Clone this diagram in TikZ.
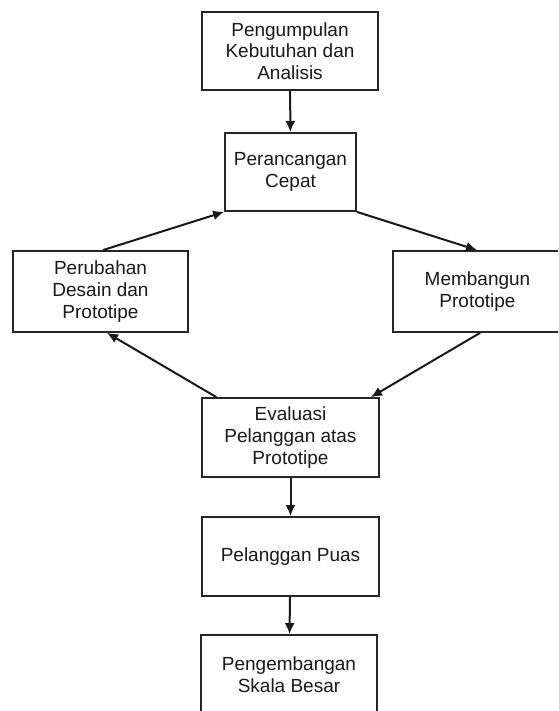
\documentclass[tikz,border=0pt]{standalone}
\usepackage{fontspec}
\setmainfont{Liberation Sans}
\usetikzlibrary{calc,arrows.meta}
\begin{document}
\begin{tikzpicture}[x=1pt,y=-1pt,
  boxnode/.style={draw=black!85,line width=1.8pt,rectangle,inner sep=0pt,align=center,
    font=\fontsize{19}{21.7}\selectfont,text=black!90},
  flow/.style={line width=2pt,draw=black!90,-{Latex[length=11pt,width=10pt]}}]
\useasboundingbox (0,0) rectangle (558,711);
\clip (0,0) rectangle (558,711);
\fill[white] (0,0) rectangle (558,711);
\node[boxnode,minimum width=176pt,minimum height=78pt] (b1) at (290,51) {Pengumpulan\\Kebutuhan dan\\Analisis};
\node[boxnode,minimum width=131pt,minimum height=78pt] (b2) at (290.5,172) {Perancangan\\Cepat};
\node[boxnode,minimum width=175pt,minimum height=81pt] (b3) at (100.5,291.5) {Perubahan\\Desain dan\\Prototipe};
\node[boxnode,minimum width=169pt,minimum height=81pt,text width=155pt] (b4) at (477.5,291.5) {Membangun\\Prototipe};
\node[boxnode,minimum width=177pt,minimum height=79pt] (b5) at (290.5,437.5) {Evaluasi\\Pelanggan atas\\Prototipe};
\node[boxnode,minimum width=177pt,minimum height=79pt] (b6) at (290.5,556.5) {Pelanggan Puas};
\node[boxnode,minimum width=176pt,minimum height=80pt] (b7) at (289,675) {Pengembangan\\Skala Besar};
\draw[flow] (b1) -- (b2);
\draw[flow] ($(b3.north west)!0.514!(b3.north east)$) -- (b2.south west);
\draw[flow] (b2.south east) -- ($(b4.north west)!0.497!(b4.north east)$);
\draw[flow] ($(b4.south west)!0.515!(b4.south east)$) -- ($(b5.north west)!0.95!(b5.north east)$);
\draw[flow] ($(b5.north west)!0.085!(b5.north east)$) -- ($(b3.south west)!0.537!(b3.south east)$);
\draw[flow] (b5) -- (b6);
\draw[flow] (b6) -- (b7);
\end{tikzpicture}
\end{document}
